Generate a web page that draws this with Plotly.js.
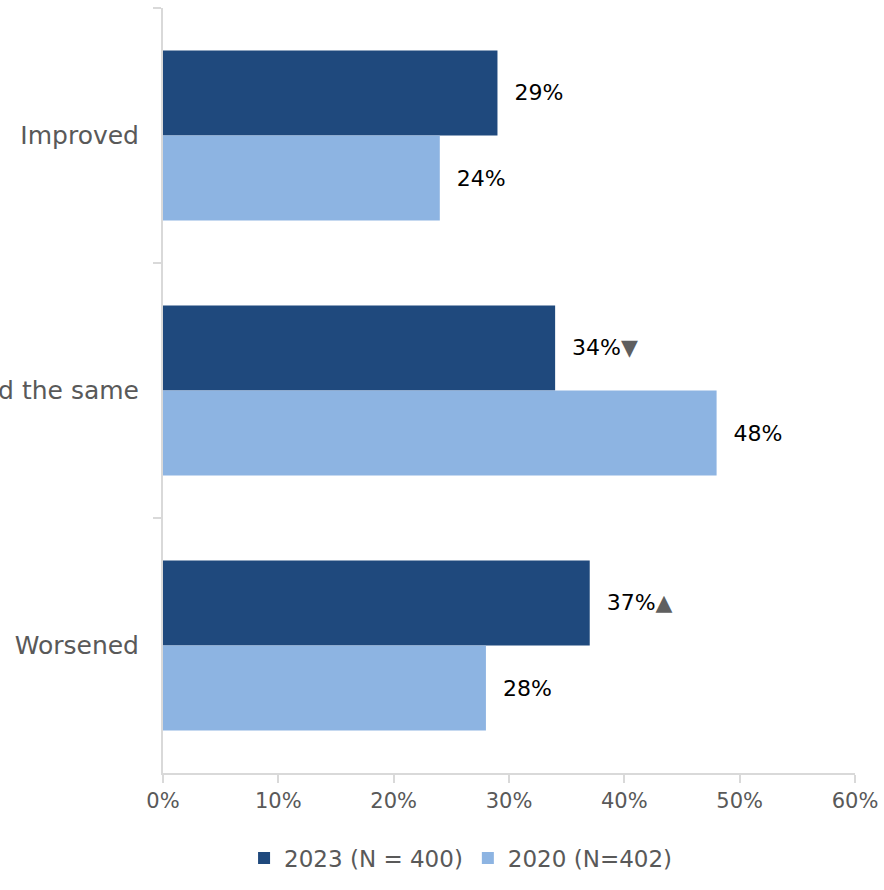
<!DOCTYPE html>
<html>
<head>
<meta charset="utf-8">
<script src="https://cdn.plot.ly/plotly-3.0.1.min.js"></script>
<style>html,body{margin:0;padding:0;background:#fff;}#chart{width:884px;height:890px;}</style>
</head>
<body>
<div id="chart"></div>
<script>
const categories = ["Improved", "Stayed the same", "Worsened"];
const values2023 = [29, 34, 37];
const values2020 = [24, 48, 28];
const marks2023 = ["", "▼", "▲"];
const marks2020 = ["", "", ""];
const seriesNames = ["2023 (N = 400)", "2020 (N=402)"];
const tickVals = [0, 10, 20, 30, 40, 50, 60];
const tickText = ["0%", "10%", "20%", "30%", "40%", "50%", "60%"];

function labels(vals, marks) {
  return vals.map((v, i) => "\u00a0\u00a0" + v + "%" + (marks[i] ? "<span style=\"color:#5f5f5f\">" + marks[i] + "</span>" : ""));
}

const font = "'DejaVu Sans', sans-serif";

const traces = [
  {
    type: "bar", orientation: "h", name: seriesNames[0],
    y: categories, x: values2023,
    marker: {color: "#1F497D"},
    text: labels(values2023, marks2023), textposition: "outside",
    textfont: {color: "#000000", size: 22, family: font},
    cliponaxis: false, hoverinfo: "skip"
  },
  {
    type: "bar", orientation: "h", name: seriesNames[1],
    y: categories, x: values2020,
    marker: {color: "#8DB4E2"},
    text: labels(values2020, marks2020), textposition: "outside",
    textfont: {color: "#000000", size: 22, family: font},
    cliponaxis: false, hoverinfo: "skip"
  }
];

const layout = {
  width: 884, height: 890,
  margin: {l: 163, r: 29, t: 8, b: 117},
  paper_bgcolor: "#ffffff", plot_bgcolor: "#ffffff",
  font: {family: font, color: "#595959", size: 22},
  barmode: "group", bargap: 0.333, bargroupgap: 0,
  showlegend: true,
  legend: {orientation: "h", x: 0.43, xanchor: "center", y: -0.083, yanchor: "top",
           font: {size: 23, color: "#595959"}, traceorder: "normal", itemwidth: 30},
  xaxis: {
    range: [0, 60], tickvals: tickVals, ticktext: tickText,
    showgrid: false, zeroline: false,
    showline: true, linecolor: "#D9D9D9", linewidth: 2,
    ticks: "outside", ticklen: 8, tickcolor: "#D9D9D9", tickwidth: 2,
    tickfont: {size: 21, color: "#595959"}, fixedrange: true
  },
  yaxis: {
    type: "category", autorange: "reversed",
    showgrid: false, zeroline: false,
    showline: true, linecolor: "#D9D9D9", linewidth: 2,
    ticks: "outside", tickson: "boundaries", ticklen: 8, tickcolor: "#D9D9D9", tickwidth: 2,
    ticklabelstandoff: 17,
    tickfont: {size: 25, color: "#595959"}, fixedrange: true
  }
};

Plotly.newPlot("chart", traces, layout, {displayModeBar: false, staticPlot: true});
</script>
</body>
</html>
